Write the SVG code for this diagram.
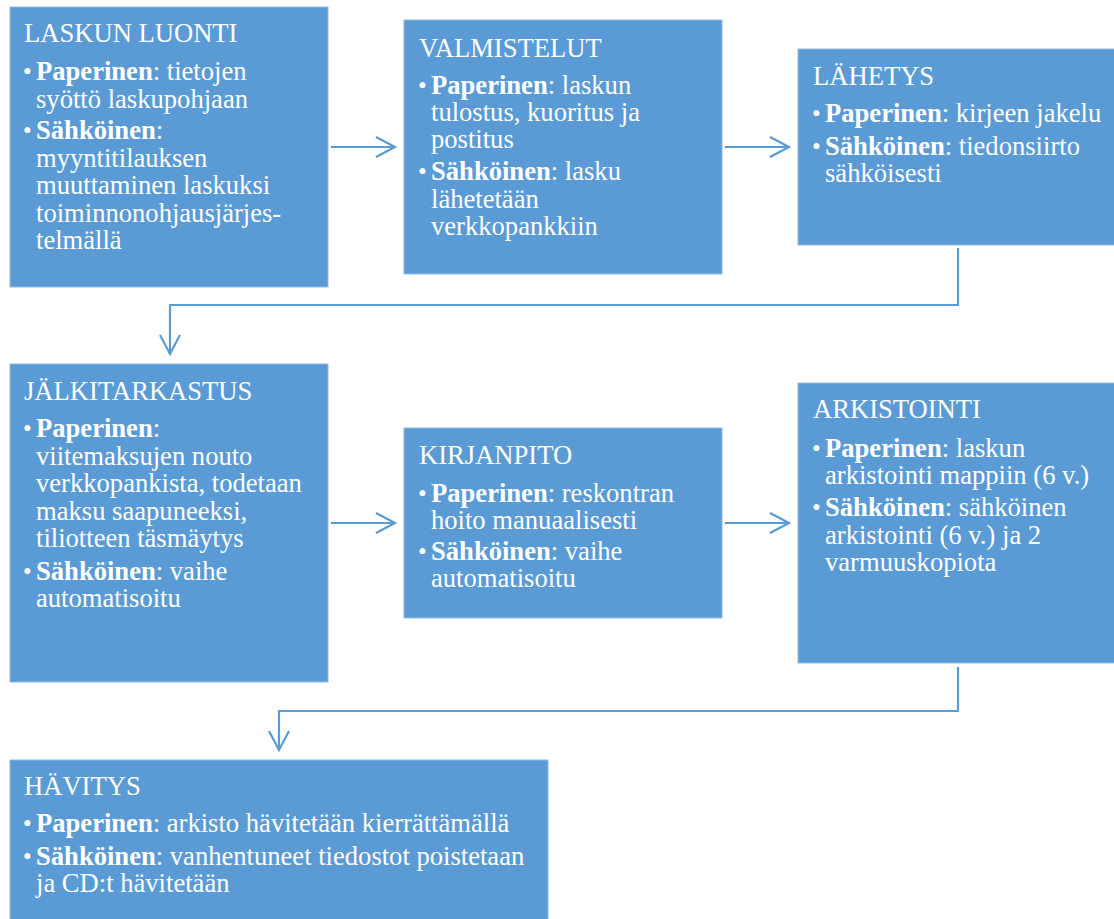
<svg xmlns="http://www.w3.org/2000/svg" width="1114" height="919" viewBox="0 0 1114 919">
<defs>
<style>
.box{fill:#5B9BD5;stroke:#8FB9E3;stroke-width:1}
text{font-family:"Liberation Serif","Times New Roman",serif;font-size:26.6px;fill:#FFFFFF}
.b{font-weight:bold}
.bul{font-size:25px}
.conn{fill:none;stroke:#5B9BD5;stroke-width:2.2}
</style>
<marker id="arr" markerUnits="userSpaceOnUse" markerWidth="24" markerHeight="24" refX="19" refY="10" orient="auto" overflow="visible">
<path d="M0,0 L19,10 L0,20" fill="none" stroke="#5B9BD5" stroke-width="2.2"/>
</marker>
</defs>
<rect width="1114" height="919" fill="#FFFFFF"/>

<g id="connectors">
<line class="conn" x1="331" y1="147" x2="395" y2="147" marker-end="url(#arr)"/>
<line class="conn" x1="725" y1="147" x2="789" y2="147" marker-end="url(#arr)"/>
<polyline class="conn" points="958,248 958,305 170,305 170,354" marker-end="url(#arr)"/>
<line class="conn" x1="331" y1="523" x2="395" y2="523" marker-end="url(#arr)"/>
<line class="conn" x1="725" y1="523" x2="789" y2="523" marker-end="url(#arr)"/>
<polyline class="conn" points="958,667 958,711 279,711 279,750" marker-end="url(#arr)"/>
</g>

<g id="laskun-luonti">
<rect class="box" x="10" y="7" width="318" height="280"/>
<text x="24" y="42">LASKUN LUONTI</text>
<text class="bul" x="23" y="80">•</text>
<text x="36" y="80"><tspan class="b">Paperinen</tspan>: tietojen</text>
<text x="36" y="107.5">syöttö laskupohjaan</text>
<text class="bul" x="23" y="138.5">•</text>
<text x="36" y="138.5"><tspan class="b">Sähköinen</tspan>:</text>
<text x="36" y="166.5">myyntitilauksen</text>
<text x="36" y="194">muuttaminen laskuksi</text>
<text x="36" y="221.5">toiminnonohjausjärjes-</text>
<text x="36" y="249">telmällä</text>
</g>

<g id="valmistelut">
<rect class="box" x="404" y="20" width="318" height="254"/>
<text x="419" y="57">VALMISTELUT</text>
<text class="bul" x="418" y="93.5">•</text>
<text x="431" y="93.5"><tspan class="b">Paperinen</tspan>: laskun</text>
<text x="431" y="121">tulostus, kuoritus ja</text>
<text x="431" y="148">postitus</text>
<text class="bul" x="418" y="180">•</text>
<text x="431" y="180"><tspan class="b">Sähköinen</tspan>: lasku</text>
<text x="431" y="207.5">lähetetään</text>
<text x="431" y="235">verkkopankkiin</text>
</g>

<g id="lahetys">
<rect class="box" x="798" y="49" width="320" height="196"/>
<text x="813" y="85">LÄHETYS</text>
<text class="bul" x="812" y="122">•</text>
<text x="825" y="122"><tspan class="b">Paperinen</tspan>: kirjeen jakelu</text>
<text class="bul" x="812" y="154.5">•</text>
<text x="825" y="154.5"><tspan class="b">Sähköinen</tspan>: tiedonsiirto</text>
<text x="825" y="182">sähköisesti</text>
</g>

<g id="jalkitarkastus">
<rect class="box" x="10" y="364" width="318" height="318"/>
<text x="24" y="400">JÄLKITARKASTUS</text>
<text class="bul" x="23" y="437">•</text>
<text x="36" y="437"><tspan class="b">Paperinen</tspan>:</text>
<text x="36" y="465">viitemaksujen nouto</text>
<text x="36" y="492">verkkopankista, todetaan</text>
<text x="36" y="519.5">maksu saapuneeksi,</text>
<text x="36" y="547">tiliotteen täsmäytys</text>
<text class="bul" x="23" y="580">•</text>
<text x="36" y="580"><tspan class="b">Sähköinen</tspan>: vaihe</text>
<text x="36" y="607">automatisoitu</text>
</g>

<g id="kirjanpito">
<rect class="box" x="404" y="428" width="318" height="190"/>
<text x="419" y="464">KIRJANPITO</text>
<text class="bul" x="418" y="501.5">•</text>
<text x="431" y="501.5"><tspan class="b">Paperinen</tspan>: reskontran</text>
<text x="431" y="528.5">hoito manuaalisesti</text>
<text class="bul" x="418" y="560">•</text>
<text x="431" y="560"><tspan class="b">Sähköinen</tspan>: vaihe</text>
<text x="431" y="587">automatisoitu</text>
</g>

<g id="arkistointi">
<rect class="box" x="798" y="383" width="320" height="280"/>
<text x="813" y="418">ARKISTOINTI</text>
<text class="bul" x="812" y="457">•</text>
<text x="825" y="457"><tspan class="b">Paperinen</tspan>: laskun</text>
<text x="825" y="484">arkistointi mappiin (6 v.)</text>
<text class="bul" x="812" y="516">•</text>
<text x="825" y="516"><tspan class="b">Sähköinen</tspan>: sähköinen</text>
<text x="825" y="543.5">arkistointi (6 v.) ja 2</text>
<text x="825" y="571">varmuuskopiota</text>
</g>

<g id="havitys">
<rect class="box" x="10" y="760" width="538" height="170"/>
<text x="24" y="795">HÄVITYS</text>
<text class="bul" x="23" y="832">•</text>
<text x="36" y="832"><tspan class="b">Paperinen</tspan>: arkisto hävitetään kierrättämällä</text>
<text class="bul" x="23" y="865">•</text>
<text x="36" y="865"><tspan class="b">Sähköinen</tspan>: vanhentuneet tiedostot poistetaan</text>
<text x="36" y="892">ja CD:t hävitetään</text>
</g>
</svg>
